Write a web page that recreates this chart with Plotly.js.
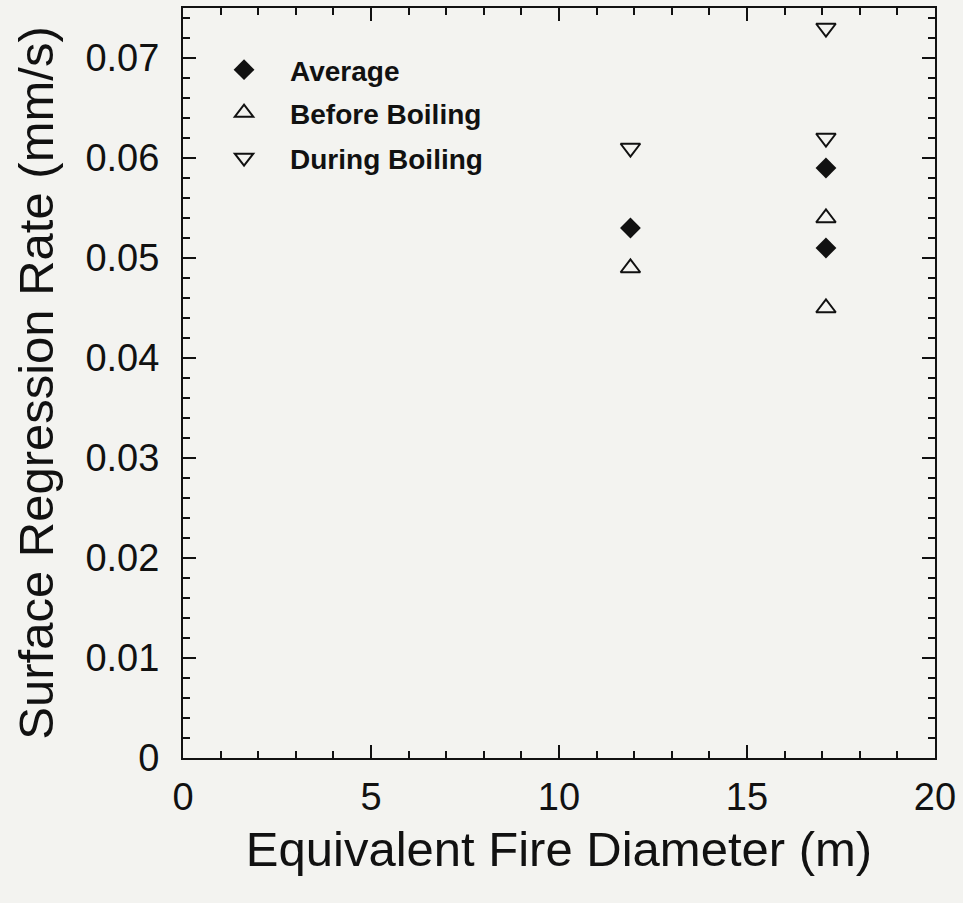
<!DOCTYPE html>
<html><head><meta charset="utf-8">
<script src="https://cdn.plot.ly/plotly-3.0.1.min.js"></script>
<style>html,body{margin:0;padding:0;background:#f3f3f0;}</style>
</head><body>
<div id="chart" style="width:963px;height:903px;"></div>
<script>
const avgX = [11.9, 17.1, 17.1];
const avgY = [0.053, 0.059, 0.051];
const beforeX = [11.9, 17.1, 17.1];
const beforeY = [0.049, 0.054, 0.045];
const duringX = [11.9, 17.1, 17.1];
const duringY = [0.061, 0.073, 0.062];
const xTicks = [0, 5, 10, 15, 20];
const yTicks = [0, 0.01, 0.02, 0.03, 0.04, 0.05, 0.06, 0.07];
const yTickText = ['0', '0.01', '0.02', '0.03', '0.04', '0.05', '0.06', '0.07'];
const seriesNames = ['Average', 'Before Boiling', 'During Boiling'];

const font = 'Liberation Sans, Arial, sans-serif';
const traces = [
  {x: avgX, y: avgY, name: seriesNames[0], mode: 'markers', type: 'scatter', legend: 'legend',
   marker: {symbol: 'diamond', size: 16, color: '#111', line: {width: 0}}},
  {x: beforeX, y: beforeY, name: seriesNames[1], mode: 'markers', type: 'scatter', legend: 'legend2',
   marker: {symbol: 'triangle-up-open', size: 17, color: '#111', line: {width: 2}}},
  {x: duringX, y: duringY, name: seriesNames[2], mode: 'markers', type: 'scatter', legend: 'legend3',
   marker: {symbol: 'triangle-down-open', size: 17, color: '#111', line: {width: 2}}}
];
const legBase = {xanchor: 'left', yanchor: 'middle', bgcolor: 'rgba(0,0,0,0)',
  font: {family: font, size: 28, color: '#111', weight: 'bold'}, itemwidth: 82};
const axBase = {showgrid: false, zeroline: false, showline: true, linecolor: '#111', linewidth: 2,
  mirror: 'allticks', ticks: 'inside', ticklen: 13, tickwidth: 2, tickcolor: '#111',
  tickfont: {family: font, size: 38, color: '#111'}};
const layout = {
  width: 963, height: 903,
  margin: {l: 183, r: 28, t: 8, b: 145},
  paper_bgcolor: '#f3f3f0', plot_bgcolor: '#f3f3f0',
  showlegend: true,
  legend: Object.assign({}, legBase, {x: 0.02, y: 0.0688 / 0.075}),
  legend2: Object.assign({}, legBase, {x: 0.02, y: 0.0645 / 0.075}),
  legend3: Object.assign({}, legBase, {x: 0.02, y: 0.0600 / 0.075}),
  xaxis: Object.assign({}, axBase, {range: [0, 20], tickvals: xTicks, ticktext: xTicks.map(String),
    ticklabelstandoff: 4,
    minor: {dtick: 1, ticks: 'inside', ticklen: 7, tickwidth: 2, tickcolor: '#111'},
    title: {text: 'Equivalent Fire Diameter (m)', font: {family: font, size: 49, color: '#111'}, standoff: 15}}),
  yaxis: Object.assign({}, axBase, {range: [0, 0.075], tickvals: yTicks, ticktext: yTickText,
    ticklabelstandoff: 14,
    minor: {dtick: 0.002, ticks: 'inside', ticklen: 7, tickwidth: 2, tickcolor: '#111'},
    title: {text: 'Surface Regression Rate (mm/s)', font: {family: font, size: 49, color: '#111'}, standoff: 16}})
};
Plotly.newPlot('chart', traces, layout, {displayModeBar: false});
</script>
</body></html>
